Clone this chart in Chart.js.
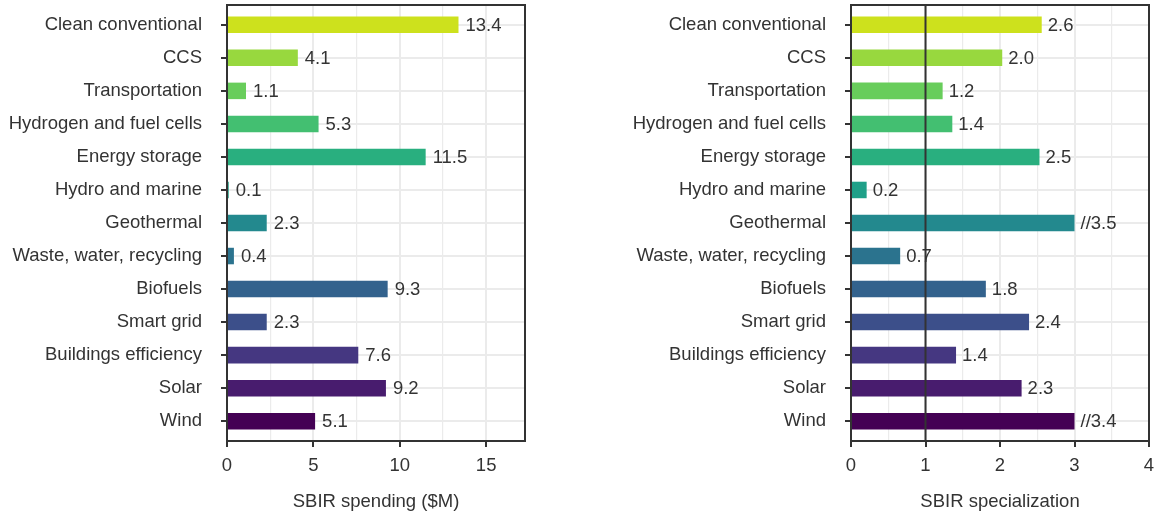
<!DOCTYPE html>
<html>
<head>
<meta charset="utf-8">
<script src="https://cdn.jsdelivr.net/npm/chart.js@4.4.1/dist/chart.umd.min.js"></script>
<style>
  html, body { margin: 0; padding: 0; background: #fff; }
  #wrap { position: relative; width: 1156px; height: 515px; }
  .panel { position: absolute; top: 0; width: 578px; height: 515px; }
</style>
</head>
<body>
<div id="wrap">
  <div class="panel" style="left:0"><canvas id="spending" width="578" height="515"></canvas></div>
  <div class="panel" style="left:578px"><canvas id="special" width="578" height="515"></canvas></div>
</div>
<script>
// categories, top to bottom
const categories = [
  "Clean conventional", "CCS", "Transportation", "Hydrogen and fuel cells",
  "Energy storage", "Hydro and marine", "Geothermal", "Waste, water, recycling",
  "Biofuels", "Smart grid", "Buildings efficiency", "Solar", "Wind"
];
const spending = [13.4, 4.1, 1.1, 5.3, 11.5, 0.1, 2.3, 0.4, 9.3, 2.3, 7.6, 9.2, 5.1];
const specialization = [2.56, 2.03, 1.23, 1.36, 2.53, 0.21, 3.5, 0.66, 1.81, 2.39, 1.41, 2.29, 3.4];
const barColors = [
  "#cde11d", "#98d83e", "#68cd5b", "#43bf71", "#29af7f", "#1fa088", "#23898e",
  "#2b738e", "#33628d", "#3c4f8a", "#453781", "#481c6e", "#440154"
];
const spendingTicks = [0, 5, 10, 15];
const spendingMinor = [2.5, 7.5, 12.5];
const specialTicks = [0, 1, 2, 3, 4];
const specialMinor = [0.5, 1.5, 2.5, 3.5];
const specialCap = 3;      // bars beyond this get cut and labelled with "//"
const referenceLine = 1;

const FONT = { family: "'Liberation Sans', Arial, sans-serif", size: 18.5 };
const TEXT = "#333333";
const FRAME = "#333333";
const GRID = "#ebebeb";

const framePlugin = {
  id: "frame",
  afterDatasetsDraw(chart, args, opts) {
    const { ctx, chartArea: a, scales } = chart;
    ctx.save();
    ctx.strokeStyle = FRAME;
    ctx.lineWidth = 2;
    if (opts.refLine !== undefined) {
      const x = scales.x.getPixelForValue(opts.refLine);
      ctx.beginPath();
      ctx.moveTo(x, a.top);
      ctx.lineTo(x, a.bottom);
      ctx.stroke();
    }
    ctx.strokeRect(a.left, a.top, a.right - a.left, a.bottom - a.top);
    ctx.restore();
  }
};

const valueLabels = {
  id: "valueLabels",
  afterDatasetsDraw(chart, args, opts) {
    const { ctx } = chart;
    const meta = chart.getDatasetMeta(0);
    ctx.save();
    ctx.font = `${FONT.size}px ${FONT.family}`;
    ctx.fillStyle = TEXT;
    ctx.textAlign = "left";
    ctx.textBaseline = "middle";
    meta.data.forEach((bar, i) => {
      const v = opts.values[i];
      let txt = v.toFixed(1);
      if (opts.cap !== undefined && v > opts.cap) txt = "//" + txt;
      ctx.fillText(txt, bar.x + opts.offset, bar.y + 1);
    });
    ctx.restore();
  }
};

function makePanel(canvasId, cfg) {
  const ctx = document.getElementById(canvasId).getContext("2d");
  const majors = cfg.majors;
  const shown = cfg.cap === undefined ? cfg.values : cfg.values.map(v => Math.min(v, cfg.cap));

  return new Chart(ctx, {
    type: "bar",
    data: {
      datasets: [{
        data: categories.map((c, i) => ({ x: shown[i], y: i })),
        backgroundColor: barColors,
        borderWidth: 0,
        barPercentage: 0.5,
        categoryPercentage: 1
      }]
    },
    plugins: [framePlugin, valueLabels],
    options: {
      indexAxis: "y",
      responsive: false,
      animation: false,
      layout: { padding: { left: 0, right: cfg.padRight, top: 5, bottom: 0 } },
      plugins: {
        legend: { display: false },
        tooltip: { enabled: false },
        frame: { refLine: cfg.refLine },
        valueLabels: { values: cfg.values, offset: cfg.labelOffset, cap: cfg.cap }
      },
      scales: {
        y: {
          type: "linear",
          reverse: true,
          offset: false,
          min: -0.6,
          max: 12.6,
          afterBuildTicks: (axis) => { axis.ticks = categories.map((c, i) => ({ value: i })); },
          afterFit: (axis) => {
            axis.width = cfg.yWidth;
            axis.paddingTop = 0;
            axis.paddingBottom = 0;
          },
          border: { display: false },
          grid: {
            offset: false,
            color: GRID,
            lineWidth: 2,
            tickLength: 6,
            tickWidth: 2,
            tickColor: FRAME
          },
          ticks: {
            autoSkip: false,
            padding: 19,
            color: TEXT,
            font: FONT,
            callback: (v) => categories[v]
          }
        },
        x: {
          type: "linear",
          min: 0,
          max: cfg.max,
          afterBuildTicks: (axis) => {
            axis.ticks = majors.concat(cfg.minors).sort((a, b) => a - b).map(v => ({ value: v }));
          },
          afterFit: (axis) => {
            axis.height = 74;
            axis.paddingLeft = 0;
            axis.paddingRight = 0;
          },
          border: { display: false },
          grid: {
            color: GRID,
            lineWidth: (c) => (c.tick && majors.includes(c.tick.value)) ? 2 : 1.2,
            tickLength: 6,
            tickWidth: 2,
            tickColor: (c) => (c.tick && majors.includes(c.tick.value)) ? FRAME : "rgba(0,0,0,0)"
          },
          ticks: {
            autoSkip: false,
            maxRotation: 0,
            padding: 8,
            color: TEXT,
            font: FONT,
            callback: (v) => majors.includes(v) ? String(v) : ""
          },
          title: {
            display: true,
            text: cfg.title,
            color: TEXT,
            font: FONT,
            padding: { top: 0, bottom: 2 }
          }
        }
      }
    }
  });
}

makePanel("spending", {
  values: spending,
  majors: spendingTicks,
  minors: spendingMinor,
  max: 17.25,
  yWidth: 227,
  padRight: 53,
  labelOffset: 7,
  title: "SBIR spending ($M)"
});

makePanel("special", {
  values: specialization,
  majors: specialTicks,
  minors: specialMinor,
  max: 4,
  yWidth: 273,
  padRight: 7,
  labelOffset: 6,
  cap: specialCap,
  refLine: referenceLine,
  title: "SBIR specialization"
});
</script>
</body>
</html>
